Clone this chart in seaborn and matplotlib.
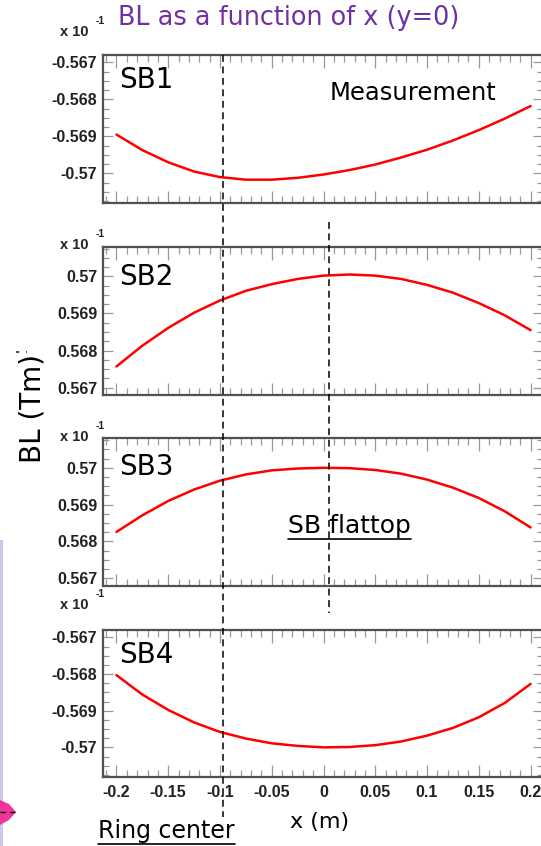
import numpy as np
import pandas as pd
import matplotlib
matplotlib.use("Agg")
import matplotlib.pyplot as plt
import seaborn as sns
from matplotlib.ticker import MultipleLocator, FuncFormatter
from matplotlib.lines import Line2D
from matplotlib.patches import Polygon, Rectangle
import matplotlib.transforms as mtransforms

# ---------------- data (values as displayed, in units of 10^-1 Tm) ----------------
x_m = [-0.200, -0.175, -0.150, -0.125, -0.100, -0.075, -0.050, -0.025, 0.000,
       0.025, 0.050, 0.075, 0.100, 0.125, 0.150, 0.175, 0.200]
sb1 = [-0.56895, -0.56937, -0.56970, -0.56995, -0.57010, -0.57017, -0.57017, -0.57012, -0.57003,
       -0.56991, -0.56976, -0.56957, -0.56936, -0.56911, -0.56883, -0.56852, -0.56818]
sb2 = [0.56757, 0.56813, 0.56861, 0.56902, 0.56935, 0.56961, 0.56979, 0.56993, 0.57002,
       0.57005, 0.57002, 0.56993, 0.56977, 0.56956, 0.56928, 0.56895, 0.56855]
sb3 = [0.56826, 0.56871, 0.56910, 0.56941, 0.56965, 0.56982, 0.56993, 0.56998, 0.57000,
       0.56999, 0.56994, 0.56984, 0.56968, 0.56946, 0.56918, 0.56882, 0.56838]
sb4 = [-0.56803, -0.56856, -0.56898, -0.56932, -0.56958, -0.56976, -0.56989, -0.56996, -0.57000,
       -0.56999, -0.56994, -0.56984, -0.56968, -0.56947, -0.56918, -0.56879, -0.56827]
panel_names = ["SB1", "SB2", "SB3", "SB4"]
series = [sb1, sb2, sb3, sb4]
y_ranges = [(-0.5708, -0.5668), (0.5668, 0.5708), (0.5668, 0.5708), (-0.5708, -0.5668)]
x_range = (-0.213, 0.212)
marker_lines_x = [-0.097, 0.005]   # dashed reference lines (ring center, SB flattop)

# ---------------- figure ----------------
W, H = 541, 846
sns.set_style("white")
plt.rcParams["font.family"] = ["DejaVu Sans"]
plt.rcParams["lines.solid_joinstyle"] = "round"
fig = plt.figure(figsize=(W / 100, H / 100), dpi=100)


def fx(px):
    return px / W


def fy(py):
    return 1 - py / H


frames = [(55, 203), (246.7, 395), (438.3, 585.7), (630, 776.7)]
left_px, right_px = 103, 543
fmt = FuncFormatter(lambda v, _: "%g" % (round(v, 6) + 0.0))
TICK_FS = 11.5

axes = []
for i, ((top, bot), name, vals, yr) in enumerate(zip(frames, panel_names, series, y_ranges)):
    ax = fig.add_axes([fx(left_px), fy(bot), (right_px - left_px) / W, (bot - top) / H])
    df = pd.DataFrame({"x": x_m, "BL": vals})
    sns.lineplot(data=df, x="x", y="BL", ax=ax, color="#ff0000", linewidth=1.8)
    ax.set_xlim(*x_range)
    ax.set_ylim(*yr)
    ax.set_xlabel("")
    ax.set_ylabel("")
    ax.xaxis.set_major_locator(MultipleLocator(0.05))
    ax.xaxis.set_minor_locator(MultipleLocator(0.01))
    ax.yaxis.set_major_locator(MultipleLocator(0.001))
    ax.yaxis.set_minor_locator(MultipleLocator(0.00025))
    ax.xaxis.set_major_formatter(fmt)
    ax.yaxis.set_major_formatter(fmt)
    ax.tick_params(axis="x", which="major", direction="in", length=9, width=0.9,
                   color="#9a9a9a", top=True, bottom=True, pad=6,
                   labelbottom=(i == 3), labelsize=TICK_FS, labelcolor="#222222")
    ax.tick_params(axis="x", which="minor", direction="in", length=5, width=0.9,
                   color="#9a9a9a", top=True, bottom=True)
    ax.tick_params(axis="y", which="major", direction="in", length=7.5, width=0.9,
                   color="#9a9a9a", left=True, right=True, pad=4,
                   labelsize=TICK_FS, labelcolor="#222222")
    ax.tick_params(axis="y", which="minor", direction="in", length=4, width=0.9,
                   color="#9a9a9a", left=True, right=True)
    for lab in ax.get_xticklabels() + ax.get_yticklabels():
        lab.set_fontfamily("Liberation Sans")
        lab.set_fontweight("bold")
    for sp in ax.spines.values():
        sp.set_color("#505050")
        sp.set_linewidth(1.6)
        sp.set_visible(True)
    ax.set_facecolor("white")
    axes.append(ax)

# panel labels
sb_baselines = [88, 285, 475, 663]
for name, yb in zip(panel_names, sb_baselines):
    fig.text(fx(119), fy(yb), name, fontsize=20, color="black", va="baseline", ha="left")

# "x 10^-1" exponents
exp_y = [32, 245, 437, 605]
for yc in exp_y:
    fig.text(fx(60), fy(yc), "x 10", fontsize=10.5, fontfamily="Liberation Sans",
             fontweight="bold", color="#222222", va="center", ha="left")
    fig.text(fx(96), fy(yc - 11), "-1", fontsize=7.5, fontfamily="Liberation Sans",
             fontweight="bold", color="#222222", va="center", ha="left")

# dashed reference lines spanning the panels
blend = mtransforms.blended_transform_factory(axes[3].transData, fig.transFigure)
dash_spans = [(55, 817), (222, 613)]
for xv, (ya, yb) in zip(marker_lines_x, dash_spans):
    fig.add_artist(Line2D([xv, xv], [fy(ya), fy(yb)], transform=blend, color="black",
                          linewidth=1.1, linestyle=(0, (4.5, 3))))

# titles and annotations
fig.text(fx(289), fy(18), "BL as a function of x (y=0)", fontsize=18.4, color="#7030a0",
         ha="center", va="center")
fig.text(fx(330), fy(100), "Measurement", fontsize=17.5, color="black", ha="left", va="baseline")
t_flat = fig.text(fx(288), fy(533), "SB flattop", fontsize=18, color="black",
                  ha="left", va="baseline")
t_ring = fig.text(fx(98), fy(838), "Ring center", fontsize=17, color="black",
                  ha="left", va="baseline")
fig.text(fx(320), fy(822), "x (m)", fontsize=16, color="black", ha="center", va="center")
fig.text(fx(33), fy(408), "BL (Tm)", fontsize=20, color="black", ha="center", va="center",
         rotation=90)

# slide artefacts at the left edge
fig.add_artist(Rectangle((0, 0), fx(3), fy(540), transform=fig.transFigure,
                         facecolor="#c8c8f4", edgecolor="none"))
fig.add_artist(Polygon([(fx(0), fy(800)), (fx(9), fy(804)), (fx(16), fy(812)),
                        (fx(9), fy(820)), (fx(0), fy(825))], closed=True,
                       transform=fig.transFigure, facecolor="#f0349c", edgecolor="none"))
fig.add_artist(Line2D([fx(0), fx(15)], [fy(812), fy(812)], transform=fig.transFigure,
                      color="black", linewidth=1.0, linestyle=(0, (4, 3))))
fig.add_artist(Line2D([fx(16), fx(27)], [fy(352), fy(352)], transform=fig.transFigure,
                      color="#333333", linewidth=1.2, linestyle=(0, (2, 4))))

# underlines
fig.canvas.draw()
renderer = fig.canvas.get_renderer()
for t, uy in [(t_flat, 539), (t_ring, 844)]:
    bb = t.get_window_extent(renderer)
    fig.add_artist(Line2D([bb.x0 / W, bb.x1 / W], [fy(uy), fy(uy)], transform=fig.transFigure,
                          color="black", linewidth=1.2))

fig.savefig("out.png", dpi=100)
